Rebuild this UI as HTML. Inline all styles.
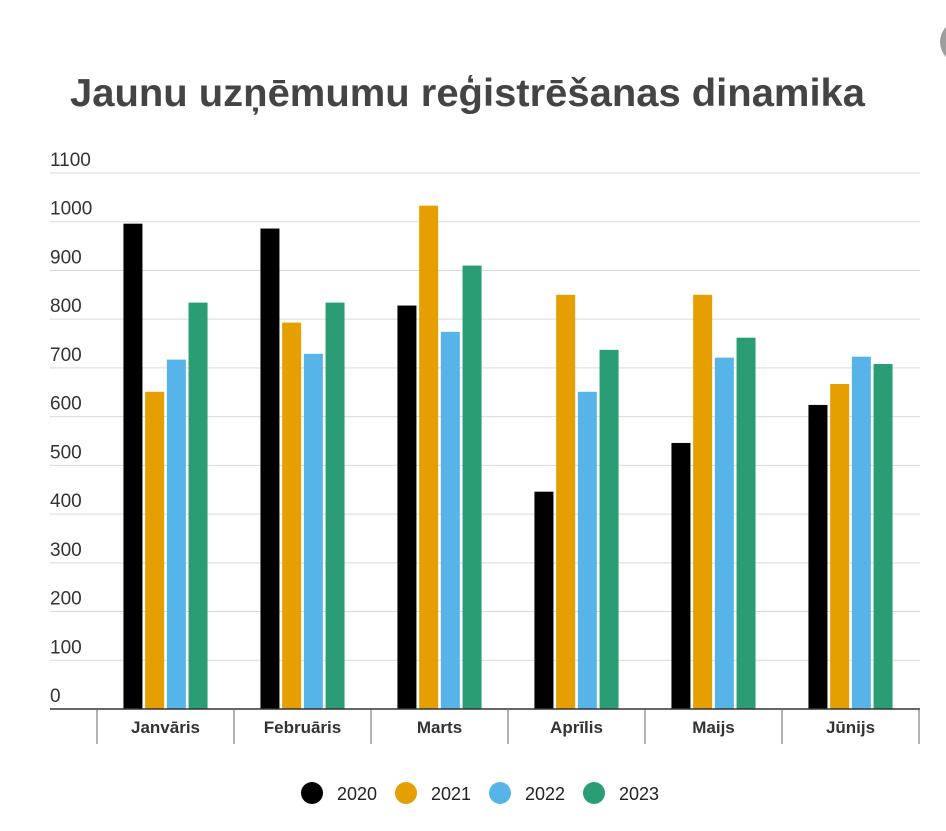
<!DOCTYPE html>
<html><head><meta charset="utf-8">
<style>
body{margin:0;background:#fff;width:946px;height:831px;overflow:hidden;font-family:"Liberation Sans",sans-serif;}
svg{display:block}
</style></head>
<body>
<svg id="chart" width="946" height="831">
<circle cx="962" cy="42" r="22" fill="#9e9e9e"/>
<text x="70" y="106" font-size="39" font-weight="bold" fill="#444" textLength="795" lengthAdjust="spacingAndGlyphs">Jaunu uzņēmumu reģistrēšanas dinamika</text>
<g id="grid"></g><g id="bars"></g><g id="xaxis"></g><g id="legend"></g>
</svg>
<script>
const categories=["Janvāris","Februāris","Marts","Aprīlis","Maijs","Jūnijs"];
const series=["2020","2021","2022","2023"];
const colors=["#000000","#e69f00","#56b4e9","#2a9d74"];
const v2020=[996,986,828,446,546,624];
const v2021=[651,793,1033,850,850,667];
const v2022=[717,729,774,651,721,723];
const v2023=[834,834,910,737,762,708];
const yTicks=[0,100,200,300,400,500,600,700,800,900,1000,1100];
const values=[v2020,v2021,v2022,v2023];
const NS="http://www.w3.org/2000/svg";
const y0=709,y1=173,x0=97,x1=919;
const y=v=>y0-(v/1100)*(y0-y1);
const cw=(x1-x0)/categories.length;
const xc=i=>x0+cw*(i+0.5);
function mk(t,a,p){const e=document.createElementNS(NS,t);for(const k in a)e.setAttribute(k,a[k]);p.appendChild(e);return e;}
const grid=document.getElementById('grid');
yTicks.forEach(t=>{
 if(t>0){const l=mk('line',{x1:50,x2:920,y1:y(t),y2:y(t),stroke:'#d9d9d9','stroke-width':1},grid);
 
 }
 const tx=mk('text',{x:50,y:y(t)-7,'font-size':19,fill:'#333'},grid);tx.textContent=t;
 
 
});
const bars=document.getElementById('bars');
const bw=19,pitch=21.7;
categories.forEach((c,i)=>{
 values.forEach((arr,s)=>{
  const bx=xc(i)-2*pitch+s*pitch+(pitch-bw)/2;
  const r=mk('rect',{x:bx,y:y(arr[i]),width:bw,height:y0-y(arr[i]),fill:colors[s]},bars);
  
  
 });
});
const xa=document.getElementById('xaxis');
const base=mk('line',{x1:50,x2:920,y1:y0,y2:y0,stroke:'#333','stroke-width':1.5},xa);


for(let i=0;i<=categories.length;i++){
 const l=mk('line',{x1:x0+cw*i,x2:x0+cw*i,y1:y0,y2:744,stroke:'#666','stroke-width':1},xa);
 
 
}
categories.forEach((c,i)=>{
 const t=mk('text',{x:xc(i),y:733,'font-size':17,'font-weight':'bold',fill:'#333','text-anchor':'middle'},xa);t.textContent=c;
 
 
});
const lg=document.getElementById('legend');
series.forEach((s,k)=>{
 const cx=312+k*94;
 const g=mk('g',{},lg);
 
 
 mk('circle',{cx:cx,cy:793,r:11,fill:colors[k]},g);
 const t=mk('text',{x:cx+25,y:800,'font-size':18,fill:'#222'},g);t.textContent=s;
});
</script>
</body></html>
